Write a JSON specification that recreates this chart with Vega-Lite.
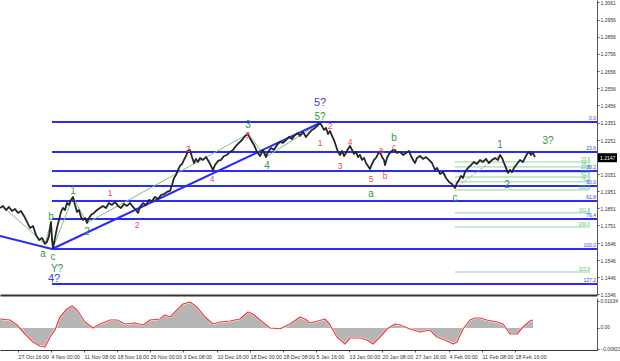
{
  "$schema": "https://vega.github.io/schema/vega-lite/v6.json",
  "padding": 0,
  "autosize": {"type": "pad"},
  "background": "white",
  "spacing": 0,
  "config": {"view": {"stroke": null}, "font": "Liberation Sans"},
  "datasets": {
    "price": [
      {"t":0,"p":1.1852},{"t":3,"p":1.1864},{"t":6,"p":1.1840},{"t":9,"p":1.1858},{"t":12,"p":1.1834},{"t":15,"p":1.1846},{"t":18,"p":1.1823},{"t":21,"p":1.1834},{"t":24,"p":1.1805},{"t":27,"p":1.1770},{"t":30,"p":1.1735},{"t":33,"p":1.1746},{"t":36,"p":1.1694},{"t":39,"p":1.1664},{"t":42,"p":1.1676},{"t":45,"p":1.1641},{"t":47,"p":1.1653},{"t":49,"p":1.1688},{"t":51,"p":1.1770},{"t":52,"p":1.1664},{"t":53,"p":1.1617},{"t":55,"p":1.1676},{"t":57,"p":1.1735},{"t":59,"p":1.1782},{"t":61,"p":1.1829},{"t":63,"p":1.1852},{"t":65,"p":1.1840},{"t":67,"p":1.1881},{"t":69,"p":1.1870},{"t":71,"p":1.1899},{"t":73,"p":1.1917},{"t":75,"p":1.1870},{"t":77,"p":1.1829},{"t":79,"p":1.1840},{"t":81,"p":1.1799},{"t":83,"p":1.1782},{"t":85,"p":1.1793},{"t":87,"p":1.1764},{"t":89,"p":1.1793},{"t":91,"p":1.1811},{"t":94,"p":1.1823},{"t":97,"p":1.1840},{"t":100,"p":1.1852},{"t":103,"p":1.1864},{"t":106,"p":1.1852},{"t":109,"p":1.1881},{"t":112,"p":1.1870},{"t":115,"p":1.1887},{"t":118,"p":1.1864},{"t":121,"p":1.1852},{"t":124,"p":1.1876},{"t":127,"p":1.1864},{"t":130,"p":1.1881},{"t":133,"p":1.1858},{"t":136,"p":1.1840},{"t":138,"p":1.1823},{"t":140,"p":1.1858},{"t":143,"p":1.1881},{"t":146,"p":1.1870},{"t":149,"p":1.1899},{"t":152,"p":1.1893},{"t":155,"p":1.1917},{"t":158,"p":1.1905},{"t":161,"p":1.1928},{"t":164,"p":1.1934},{"t":167,"p":1.1946},{"t":170,"p":1.1952},{"t":172,"p":1.1987},{"t":174,"p":1.2028},{"t":176,"p":1.2046},{"t":178,"p":1.2075},{"t":180,"p":1.2099},{"t":182,"p":1.2110},{"t":184,"p":1.2134},{"t":186,"p":1.2157},{"t":188,"p":1.2187},{"t":190,"p":1.2193},{"t":192,"p":1.2151},{"t":194,"p":1.2116},{"t":196,"p":1.2140},{"t":198,"p":1.2122},{"t":200,"p":1.2146},{"t":203,"p":1.2134},{"t":206,"p":1.2151},{"t":209,"p":1.2122},{"t":211,"p":1.2099},{"t":213,"p":1.2075},{"t":215,"p":1.2104},{"t":218,"p":1.2128},{"t":221,"p":1.2134},{"t":224,"p":1.2157},{"t":227,"p":1.2163},{"t":230,"p":1.2181},{"t":233,"p":1.2193},{"t":236,"p":1.2216},{"t":239,"p":1.2234},{"t":242,"p":1.2251},{"t":245,"p":1.2275},{"t":248,"p":1.2286},{"t":251,"p":1.2251},{"t":254,"p":1.2222},{"t":257,"p":1.2181},{"t":260,"p":1.2157},{"t":263,"p":1.2193},{"t":266,"p":1.2151},{"t":268,"p":1.2181},{"t":271,"p":1.2204},{"t":274,"p":1.2193},{"t":277,"p":1.2222},{"t":280,"p":1.2240},{"t":283,"p":1.2234},{"t":286,"p":1.2251},{"t":289,"p":1.2269},{"t":292,"p":1.2257},{"t":295,"p":1.2281},{"t":298,"p":1.2292},{"t":300,"p":1.2275},{"t":303,"p":1.2298},{"t":306,"p":1.2269},{"t":309,"p":1.2292},{"t":312,"p":1.2310},{"t":315,"p":1.2322},{"t":318,"p":1.2339},{"t":320,"p":1.2351},{"t":322,"p":1.2333},{"t":324,"p":1.2310},{"t":326,"p":1.2322},{"t":328,"p":1.2286},{"t":330,"p":1.2304},{"t":332,"p":1.2275},{"t":334,"p":1.2251},{"t":336,"p":1.2216},{"t":338,"p":1.2181},{"t":340,"p":1.2163},{"t":342,"p":1.2187},{"t":344,"p":1.2157},{"t":346,"p":1.2175},{"t":348,"p":1.2198},{"t":350,"p":1.2216},{"t":352,"p":1.2193},{"t":354,"p":1.2169},{"t":356,"p":1.2181},{"t":358,"p":1.2151},{"t":360,"p":1.2163},{"t":362,"p":1.2134},{"t":364,"p":1.2146},{"t":366,"p":1.2116},{"t":368,"p":1.2099},{"t":370,"p":1.2081},{"t":372,"p":1.2110},{"t":374,"p":1.2134},{"t":376,"p":1.2146},{"t":378,"p":1.2169},{"t":380,"p":1.2181},{"t":382,"p":1.2151},{"t":384,"p":1.2134},{"t":385,"p":1.2104},{"t":387,"p":1.2146},{"t":389,"p":1.2169},{"t":391,"p":1.2181},{"t":393,"p":1.2193},{"t":395,"p":1.2193},{"t":397,"p":1.2175},{"t":400,"p":1.2181},{"t":403,"p":1.2163},{"t":406,"p":1.2175},{"t":409,"p":1.2187},{"t":411,"p":1.2157},{"t":413,"p":1.2134},{"t":415,"p":1.2116},{"t":417,"p":1.2146},{"t":420,"p":1.2157},{"t":423,"p":1.2140},{"t":426,"p":1.2151},{"t":429,"p":1.2134},{"t":432,"p":1.2116},{"t":435,"p":1.2075},{"t":437,"p":1.2087},{"t":440,"p":1.2052},{"t":443,"p":1.2063},{"t":446,"p":1.2028},{"t":449,"p":1.2005},{"t":452,"p":1.1993},{"t":455,"p":1.1969},{"t":457,"p":1.1999},{"t":459,"p":1.2016},{"t":461,"p":1.2040},{"t":463,"p":1.2028},{"t":465,"p":1.2063},{"t":468,"p":1.2087},{"t":471,"p":1.2104},{"t":474,"p":1.2122},{"t":477,"p":1.2110},{"t":480,"p":1.2134},{"t":483,"p":1.2122},{"t":486,"p":1.2140},{"t":489,"p":1.2116},{"t":492,"p":1.2134},{"t":495,"p":1.2146},{"t":498,"p":1.2134},{"t":500,"p":1.2163},{"t":502,"p":1.2146},{"t":504,"p":1.2116},{"t":506,"p":1.2087},{"t":508,"p":1.2058},{"t":510,"p":1.2075},{"t":512,"p":1.2063},{"t":514,"p":1.2087},{"t":517,"p":1.2110},{"t":520,"p":1.2134},{"t":523,"p":1.2122},{"t":525,"p":1.2146},{"t":527,"p":1.2169},{"t":529,"p":1.2181},{"t":531,"p":1.2163},{"t":533,"p":1.2175},{"t":535,"p":1.2151}
    ],
    "levels": [
      {"t":52,"t2":597,"p":1.2357,"lab":"0.0"},
      {"t":52,"t2":597,"p":1.2181,"lab":"23.6"},
      {"t":52,"t2":597,"p":1.2069,"lab":"38.2"},
      {"t":52,"t2":597,"p":1.1981,"lab":"50.0"},
      {"t":52,"t2":597,"p":1.1893,"lab":"61.8"},
      {"t":52,"t2":597,"p":1.1787,"lab":"76.4"},
      {"t":52,"t2":597,"p":1.1611,"lab":"100.0"},
      {"t":52,"t2":597,"p":1.1406,"lab":"127.2"}
    ],
    "glevels": [
      {"t":455,"t2":590,"p":1.2122,"lab":"23.6"},
      {"t":455,"t2":590,"p":1.2093,"lab":"38.2"},
      {"t":455,"t2":590,"p":1.2063,"lab":"50.0"},
      {"t":455,"t2":590,"p":1.2034,"lab":"61.8"},
      {"t":455,"t2":590,"p":1.2005,"lab":"76.4"},
      {"t":455,"t2":590,"p":1.1958,"lab":"100.0"},
      {"t":455,"t2":590,"p":1.1823,"lab":"161.8"},
      {"t":455,"t2":590,"p":1.1740,"lab":"200.0"},
      {"t":455,"t2":590,"p":1.1476,"lab":"323.6"}
    ],
    "trends": [
      {"t":0,"p":1.1688,"t2":52,"p2":1.1611,"kind":"blue"},
      {"t":52,"p":1.1611,"t2":320,"p2":1.2351,"kind":"blue"},
      {"t":2,"p":1.1864,"t2":45,"p2":1.1641,"kind":"green"},
      {"t":45,"p":1.1641,"t2":51,"p2":1.1770,"kind":"green"},
      {"t":51,"p":1.1770,"t2":53,"p2":1.1617,"kind":"green"},
      {"t":53,"p":1.1617,"t2":73,"p2":1.1917,"kind":"green"},
      {"t":73,"p":1.1917,"t2":87,"p2":1.1764,"kind":"green"},
      {"t":87,"p":1.1764,"t2":248,"p2":1.2286,"kind":"green"},
      {"t":248,"p":1.2286,"t2":266,"p2":1.2151,"kind":"green"},
      {"t":266,"p":1.2151,"t2":320,"p2":1.2351,"kind":"green"},
      {"t":455,"p":1.1969,"t2":500,"p2":1.2163,"kind":"red"}
    ],
    "waves": [
      {"t":43,"p":1.1582,"text":"a","deg":"int"},
      {"t":53,"p":1.1564,"text":"c","deg":"int"},
      {"t":51,"p":1.1799,"text":"b","deg":"int"},
      {"t":73,"p":1.1952,"text":"1","deg":"int"},
      {"t":87,"p":1.1711,"text":"2","deg":"int"},
      {"t":57,"p":1.1494,"text":"Y?","deg":"int"},
      {"t":248,"p":1.2339,"text":"3","deg":"int"},
      {"t":267,"p":1.2099,"text":"4","deg":"int"},
      {"t":320,"p":1.2386,"text":"5?","deg":"int"},
      {"t":394,"p":1.2263,"text":"b","deg":"int"},
      {"t":371,"p":1.1934,"text":"a","deg":"int"},
      {"t":455,"p":1.1911,"text":"c","deg":"int"},
      {"t":500,"p":1.2222,"text":"1","deg":"int"},
      {"t":507,"p":1.1987,"text":"2","deg":"int"},
      {"t":548,"p":1.2245,"text":"3?","deg":"int"},
      {"t":320,"p":1.2468,"text":"5?","deg":"prim"},
      {"t":54,"p":1.1435,"text":"4?","deg":"prim"},
      {"t":110,"p":1.1940,"text":"1","deg":"min"},
      {"t":137,"p":1.1752,"text":"2","deg":"min"},
      {"t":188,"p":1.2198,"text":"3","deg":"min"},
      {"t":212,"p":1.2022,"text":"4","deg":"min"},
      {"t":248,"p":1.2283,"text":"5","deg":"min"},
      {"t":320,"p":1.2234,"text":"1","deg":"min"},
      {"t":330,"p":1.2333,"text":"2","deg":"min"},
      {"t":340,"p":1.2099,"text":"3","deg":"min"},
      {"t":350,"p":1.2240,"text":"4","deg":"min"},
      {"t":371,"p":1.2022,"text":"5","deg":"min"},
      {"t":381,"p":1.2193,"text":"a","deg":"min"},
      {"t":385,"p":1.2040,"text":"b","deg":"min"},
      {"t":394,"p":1.2210,"text":"c","deg":"min"}
    ],
    "last": [{"t":598,"t2":617,"p":1.2147,"lab":"1.2147"}],
    "macd": [
      {"t":0,"v":0.00349},{"t":10,"v":0.00310},{"t":17,"v":0.00116},{"t":25,"v":-0.00233},{"t":33,"v":-0.00543},{"t":40,"v":-0.00698},{"t":45,"v":-0.00736},{"t":50,"v":-0.00349},{"t":55,"v":-0.00078},{"t":60,"v":0.00426},{"t":67,"v":0.00736},{"t":72,"v":0.00853},{"t":77,"v":0.00698},{"t":85,"v":0.00233},{"t":93,"v":0.0},{"t":100,"v":0.00155},{"t":110,"v":0.00310},{"t":117,"v":0.00310},{"t":125,"v":0.00155},{"t":135,"v":0.00194},{"t":143,"v":0.00116},{"t":150,"v":0.00310},{"t":160,"v":0.00349},{"t":165,"v":0.00504},{"t":170,"v":0.00426},{"t":175,"v":0.00620},{"t":183,"v":0.00930},{"t":190,"v":0.01008},{"t":197,"v":0.00814},{"t":205,"v":0.00426},{"t":213,"v":0.00155},{"t":220,"v":0.00233},{"t":230,"v":0.00271},{"t":240,"v":0.00349},{"t":248,"v":0.00620},{"t":253,"v":0.00543},{"t":260,"v":0.00310},{"t":270,"v":0.0},{"t":280,"v":-0.0003},{"t":290,"v":0.00155},{"t":300,"v":0.00426},{"t":305,"v":0.00349},{"t":310,"v":0.00194},{"t":318,"v":0.00271},{"t":325,"v":0.00349},{"t":330,"v":0.00116},{"t":337,"v":-0.00349},{"t":345,"v":-0.00620},{"t":350,"v":-0.00388},{"t":360,"v":-0.00388},{"t":367,"v":-0.00465},{"t":373,"v":-0.00620},{"t":380,"v":-0.00349},{"t":387,"v":-0.00039},{"t":395,"v":0.00155},{"t":400,"v":0.00116},{"t":410,"v":-0.00039},{"t":420,"v":-0.00155},{"t":430,"v":-0.00078},{"t":437,"v":-0.00349},{"t":445,"v":-0.00465},{"t":453,"v":-0.00620},{"t":457,"v":-0.00543},{"t":463,"v":-0.00039},{"t":470,"v":0.00310},{"t":475,"v":0.00388},{"t":480,"v":0.00388},{"t":487,"v":0.00310},{"t":497,"v":0.00233},{"t":503,"v":0.00155},{"t":510,"v":-0.00233},{"t":517,"v":-0.00233},{"t":523,"v":0.00039},{"t":530,"v":0.00271},{"t":533,"v":0.00310}
    ]
  },
  "vconcat": [
    {
      "width": 597,
      "height": 295,
      "encoding": {
        "x": {"field": "t", "type": "quantitative", "scale": {"domain": [0, 597], "nice": false, "zero": false},
          "axis": {"labels": false, "ticks": false, "grid": false, "title": null, "domainColor": "#333", "domainWidth": 2}},
        "y": {"field": "p", "type": "quantitative", "scale": {"domain": [1.1341, 1.3073], "nice": false, "zero": false},
          "axis": {"orient": "right", "title": null, "grid": false, "values": [1.3061,1.2956,1.2856,1.2756,1.2656,1.2556,1.2456,1.2351,1.2251,1.2051,1.1951,1.1851,1.1751,1.1646,1.1546,1.1446,1.1346],
            "format": ".4f", "labelFontSize": 5, "labelColor": "#333", "tickSize": 2, "tickColor": "#555", "domainColor": "#555", "labelPadding": 1, "labelFlush": false, "labelOverlap": false}}
      },
      "layer": [
        {"data": {"name": "glevels"}, "mark": {"type": "rule", "color": "#8fd4a4", "strokeWidth": 1, "clip": true},
          "encoding": {"x2": {"field": "t2"}}},
        {"data": {"name": "levels"}, "mark": {"type": "rule", "color": "#2a2aff", "strokeWidth": 2, "clip": true},
          "encoding": {"x2": {"field": "t2"}}},
        {"data": {"name": "trends"}, "transform": [{"filter": "datum.kind == 'green'"}],
          "mark": {"type": "rule", "color": "#7cc47c", "strokeWidth": 1, "clip": true},
          "encoding": {"x2": {"field": "t2"}, "y2": {"field": "p2"}}},
        {"data": {"name": "trends"}, "transform": [{"filter": "datum.kind == 'red'"}],
          "mark": {"type": "rule", "color": "#f07070", "strokeWidth": 1, "strokeDash": [2, 2], "clip": true},
          "encoding": {"x2": {"field": "t2"}, "y2": {"field": "p2"}}},
        {"data": {"name": "trends"}, "transform": [{"filter": "datum.kind == 'blue'"}],
          "mark": {"type": "rule", "color": "#2a2aff", "strokeWidth": 2, "clip": true},
          "encoding": {"x2": {"field": "t2"}, "y2": {"field": "p2"}}},
        {"data": {"name": "price"}, "mark": {"type": "line", "color": "#262626", "strokeWidth": 1.8, "strokeJoin": "round", "clip": true}},
        {"data": {"name": "levels"}, "mark": {"type": "text", "align": "right", "baseline": "bottom", "dx": -1, "dy": -1, "fontSize": 5, "color": "#3344ff"},
          "encoding": {"x": {"field": "t2", "type": "quantitative"}, "text": {"field": "lab"}}},
        {"data": {"name": "glevels"}, "mark": {"type": "text", "align": "right", "baseline": "bottom", "dx": 0, "dy": 0, "fontSize": 4.5, "color": "#55bb77"},
          "encoding": {"x": {"field": "t2", "type": "quantitative"}, "text": {"field": "lab"}}},
        {"data": {"name": "waves"}, "transform": [{"filter": "datum.deg == 'int'"}],
          "mark": {"type": "text", "fontSize": 10, "color": "#2f9a3a", "baseline": "middle"},
          "encoding": {"text": {"field": "text"}}},
        {"data": {"name": "waves"}, "transform": [{"filter": "datum.deg == 'prim'"}],
          "mark": {"type": "text", "fontSize": 11, "color": "#3b3bff", "baseline": "middle"},
          "encoding": {"text": {"field": "text"}}},
        {"data": {"name": "waves"}, "transform": [{"filter": "datum.deg == 'min'"}],
          "mark": {"type": "text", "fontSize": 8.5, "color": "#f04a4a", "baseline": "middle"},
          "encoding": {"text": {"field": "text"}}},
        {"data": {"name": "last"}, "mark": {"type": "rule", "color": "black", "strokeWidth": 9, "strokeCap": "butt", "clip": false},
          "encoding": {"x2": {"field": "t2"}}},
        {"data": {"name": "last"}, "mark": {"type": "text", "color": "white", "fontSize": 5, "baseline": "middle", "align": "left", "dx": 2, "clip": false},
          "encoding": {"text": {"field": "lab"}}}
      ]
    },
    {
      "width": 597,
      "height": 52,
      "data": {"name": "macd"},
      "encoding": {
        "x": {"field": "t", "type": "quantitative", "scale": {"domain": [0, 597], "nice": false, "zero": false},
          "axis": {"title": null, "grid": false, "values": [18,51,84,117,150,183,217,250,283,316,349,382,415,449,482,515],
            "labelExpr": "['27 Oct 16:00','4 Nov 00:00','11 Nov 08:00','18 Nov 16:00','26 Nov 00:00','3 Dec 08:00','10 Dec 16:00','18 Dec 00:00','28 Dec 08:00','5 Jan 16:00','13 Jan 00:00','20 Jan 08:00','27 Jan 16:00','4 Feb 00:00','11 Feb 08:00','18 Feb 16:00'][indexof([18,51,84,117,150,183,217,250,283,316,349,382,415,449,482,515], datum.value)]",
            "labelAlign": "left", "labelFontSize": 5.3, "labelColor": "#333", "tickSize": 2, "tickColor": "#555", "domainColor": "#333", "labelPadding": 2, "labelFlush": false, "labelOverlap": false}},
        "y": {"field": "v", "type": "quantitative", "scale": {"domain": [-0.00853, 0.01163], "nice": false, "zero": false},
          "axis": {"orient": "right", "title": null, "grid": false, "values": [0.01034, 0, -0.00823],
            "labelExpr": "datum.value == 0 ? '0.00' : format(datum.value, '.5f')",
            "labelFontSize": 4.8, "labelColor": "#333", "tickSize": 2, "tickColor": "#555", "domainColor": "#555", "labelPadding": 1, "labelFlush": false}}
      },
      "layer": [
        {"mark": {"type": "area", "color": "#b5b5b5", "clip": true}, "encoding": {"y2": {"datum": 0}}},
        {"mark": {"type": "line", "color": "white", "strokeWidth": 2, "strokeJoin": "round", "clip": true}},
        {"mark": {"type": "line", "color": "#ea3b3b", "strokeWidth": 1.2, "strokeJoin": "round", "clip": true}}
      ]
    }
  ]
}
